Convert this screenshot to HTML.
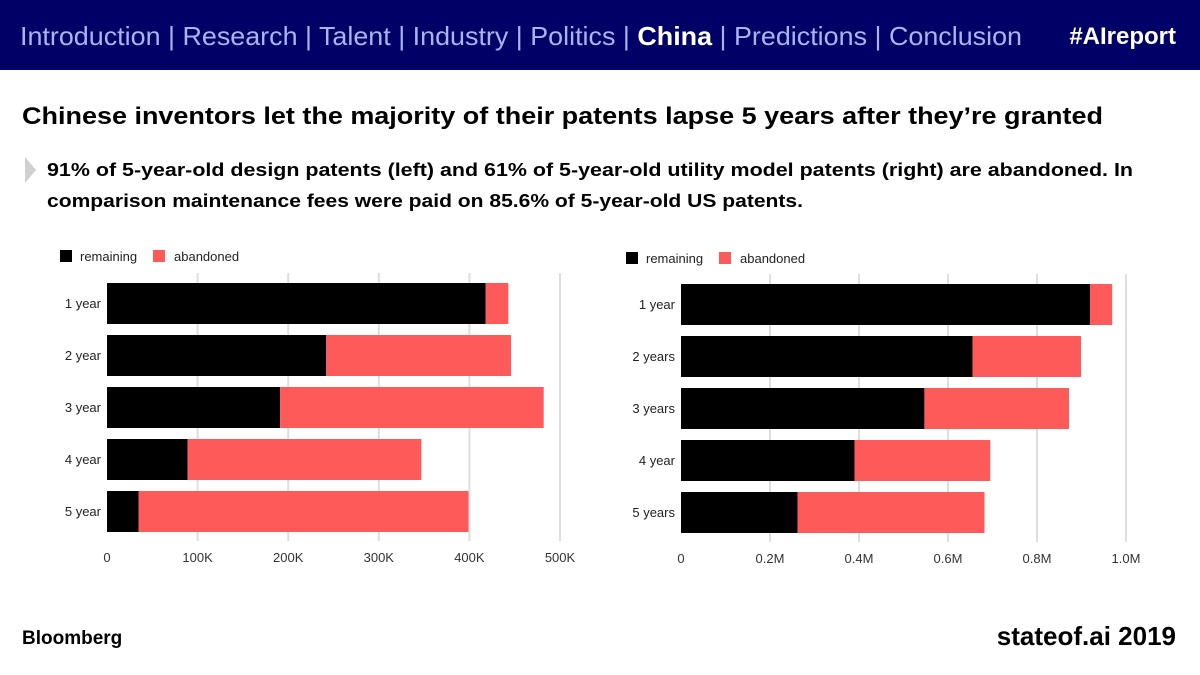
<!DOCTYPE html>
<html><head><meta charset="utf-8"><style>
html,body{margin:0;padding:0;background:#fff;}
svg{display:block;font-family:"Liberation Sans",sans-serif;}
</style></head><body>
<svg id="page" width="1200" height="675" viewBox="0 0 1200 675">
<rect x="0" y="0" width="1200" height="70" fill="#000066"/>
<text x="20" y="45" font-size="26" fill="#a9b4f0" textLength="1002" lengthAdjust="spacingAndGlyphs">Introduction | Research | Talent | Industry | Politics | <tspan fill="#fff" font-weight="bold">China</tspan> | Predictions | Conclusion</text>
<text x="1176" y="44" font-size="24" fill="#fff" font-weight="bold" text-anchor="end">#AIreport</text>
<text x="22" y="124" font-size="24" font-weight="bold" fill="#000" textLength="1081" lengthAdjust="spacingAndGlyphs">Chinese inventors let the majority of their patents lapse 5 years after they’re granted</text>
<polygon points="25,157 36,170 25,183" fill="#d0d0d0"/>
<text x="47" y="176" font-size="18" font-weight="bold" fill="#000" textLength="1086" lengthAdjust="spacingAndGlyphs">91% of 5-year-old design patents (left) and 61% of 5-year-old utility model patents (right) are abandoned. In</text>
<text x="47" y="207" font-size="18" font-weight="bold" fill="#000" textLength="756" lengthAdjust="spacingAndGlyphs">comparison maintenance fees were paid on 85.6% of 5-year-old US patents.</text>
<g id="left-chart"></g>
<g id="right-chart"></g>
<text x="22" y="644" font-size="19" font-weight="bold" fill="#000">Bloomberg</text>
<text x="1176" y="645" font-size="26" font-weight="bold" fill="#000" text-anchor="end">stateof.ai 2019</text>
</svg>
<script>
const leftCategories = ["1 year","2 year","3 year","4 year","5 year"];
const leftRemaining = [418000,242000,191000,89000,35000];
const leftAbandoned = [25000,204000,291000,258000,364000];
const leftTicks = [0,100000,200000,300000,400000,500000];
const leftTickLabels = ["0","100K","200K","300K","400K","500K"];

const rightCategories = ["1 year","2 years","3 years","4 year","5 years"];
const rightRemaining = [0.919,0.655,0.547,0.390,0.262];
const rightAbandoned = [0.050,0.244,0.325,0.305,0.420];
const rightTicks = [0,0.2,0.4,0.6,0.8,1.0];
const rightTickLabels = ["0","0.2M","0.4M","0.6M","0.8M","1.0M"];

const NS = "http://www.w3.org/2000/svg";
function mk(tag, attrs, parent){const e=document.createElementNS(NS,tag);for(const k in attrs)e.setAttribute(k,attrs[k]);parent.appendChild(e);return e;}

function drawChart(g, cfg){
  const xs = v => cfg.x0 + (v - 0) / cfg.max * (cfg.x1 - cfg.x0);
  const ys = i => cfg.y0 + i * 52;
  cfg.ticks.forEach((t,i)=>{
    if(i>0){const l=mk("line",{x1:xs(t),x2:xs(t),y1:cfg.y0-10,y2:cfg.y0+258,stroke:"#dedede","stroke-width":2},g);
    
    }
    const tx=mk("text",{x:xs(t),y:cfg.y0+279,"font-size":13,fill:"#333","text-anchor":"middle"},g);
    tx.textContent=cfg.tickLabels[i];
    
    
  });
  cfg.cats.forEach((c,i)=>{
    const r=mk("rect",{x:xs(0),y:ys(i),width:xs(cfg.rem[i])-xs(0),height:41,fill:"#000"},g);
    
    
    const a=mk("rect",{x:xs(cfg.rem[i]),y:ys(i),width:xs(cfg.rem[i]+cfg.ab[i])-xs(cfg.rem[i]),height:41,fill:"#ff5a5a"},g);
    
    
    const t=mk("text",{x:xs(0)-6,y:ys(i)+25,"font-size":13,fill:"#222","text-anchor":"end"},g);
    t.textContent=c;
    
    
  });
  const ly=cfg.legY;
  const s1=mk("rect",{x:cfg.legX,y:ly-6,width:12,height:12,fill:"#000"},g);
  
  
  const t1=mk("text",{x:cfg.legX+20,y:ly+5,"font-size":13,fill:"#222"},g);
  t1.textContent="remaining";
  
  
  const s2=mk("rect",{x:cfg.legX+93,y:ly-6,width:12,height:12,fill:"#ff5a5a"},g);
  
  
  const t2=mk("text",{x:cfg.legX+114,y:ly+5,"font-size":13,fill:"#222"},g);
  t2.textContent="abandoned";
  
  
}
drawChart(document.getElementById('left-chart'),{x0:107,x1:560,max:500000,y0:283,cats:leftCategories,rem:leftRemaining,ab:leftAbandoned,ticks:leftTicks,tickLabels:leftTickLabels,legX:60,legY:256});
drawChart(document.getElementById('right-chart'),{x0:681,x1:1126,max:1.0,y0:284,cats:rightCategories,rem:rightRemaining,ab:rightAbandoned,ticks:rightTicks,tickLabels:rightTickLabels,legX:626,legY:258});
</script>
</body></html>
